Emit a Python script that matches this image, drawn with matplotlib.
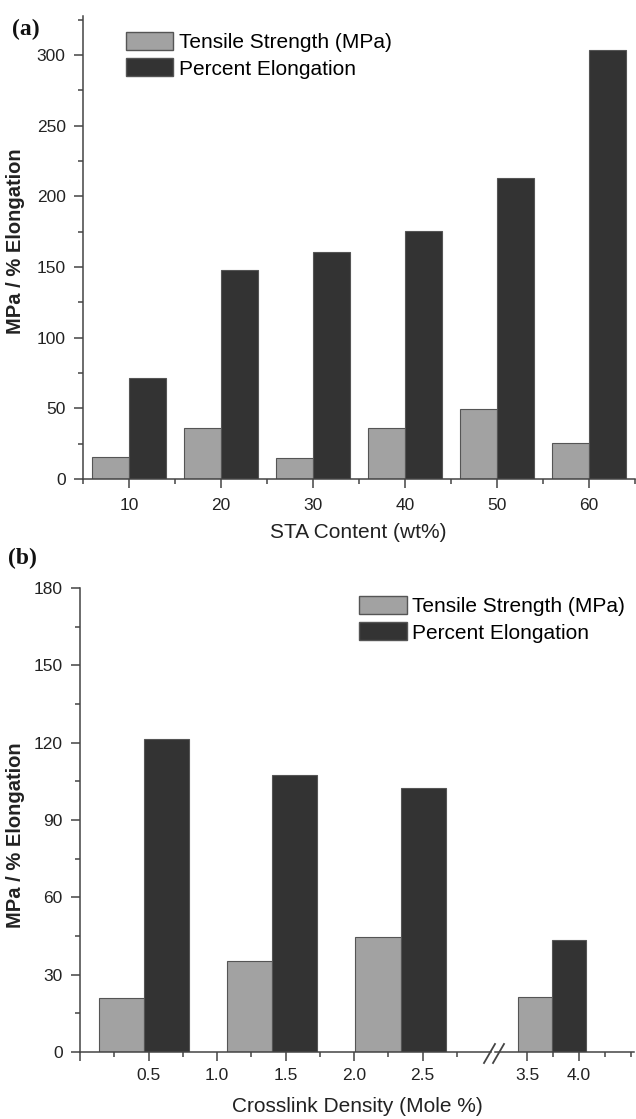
import matplotlib
matplotlib.use("Agg")
import matplotlib.pyplot as plt
from matplotlib.ticker import FixedLocator, MultipleLocator, FormatStrFormatter
from matplotlib.patches import Patch
from matplotlib.lines import Line2D

# ---------------- data ----------------
sta_content = [10, 20, 30, 40, 50, 60]
tensile_a = [15.3, 35.9, 14.6, 35.9, 49.5, 25.2]
elong_a = [71.3, 147.9, 160.4, 175.5, 212.8, 303.3]

crosslink_ticks_left = [0.5, 1.0, 1.5, 2.0, 2.5]
crosslink_ticks_right = [3.5, 4.0]
group_pos_b = [0.467, 1.40, 2.34, 3.74]
tensile_b = [20.8, 35.3, 44.5, 21.4]
elong_b = [121.4, 107.6, 102.3, 43.5]

series_labels = ["Tensile Strength (MPa)", "Percent Elongation"]

# ---------------- style ----------------
W, H = 636, 1119
DPI = 100
LIGHT = "#a2a2a2"
DARK = "#333333"
EDGE = "#555555"
AXC = "#444444"
TXT = "#222222"
NARROW = ["Liberation Sans Narrow", "Liberation Sans", "DejaVu Sans"]
SANS = ["Liberation Sans", "DejaVu Sans"]
SERIF = ["Liberation Serif", "DejaVu Serif"]

fig = plt.figure(figsize=(W / DPI, H / DPI), dpi=DPI)


def fx(px):
    return px / W


def fy(py):
    return 1 - py / H


def style_axis(ax, left=True):
    for s in ["top", "right"]:
        ax.spines[s].set_visible(False)
    ax.spines["left"].set_visible(left)
    for s in ["left", "bottom"]:
        ax.spines[s].set_color(AXC)
        ax.spines[s].set_linewidth(1.1)
    ax.tick_params(which="major", direction="out", length=6.5, width=1.1,
                   color=AXC, labelcolor=TXT, labelsize=12.5, pad=5)
    ax.tick_params(which="minor", direction="out", length=3.5, width=1.1,
                   color=AXC)


# ---------------- panel (a) ----------------
axa = fig.add_axes([fx(83), fy(479), fx(635) - fx(83), fy(15.5) - fy(479)])
xa = [v - 2 for v in sta_content]
xb = [v + 2 for v in sta_content]
axa.bar(xa, tensile_a, width=4, color=LIGHT, edgecolor=EDGE, linewidth=0.8)
axa.bar(xb, elong_a, width=4, color=DARK, edgecolor=EDGE, linewidth=0.8)
axa.set_xlim(5, 65)
axa.set_ylim(0, 328)
axa.xaxis.set_major_locator(FixedLocator(sta_content))
axa.xaxis.set_minor_locator(MultipleLocator(5))
axa.yaxis.set_major_locator(MultipleLocator(50))
axa.yaxis.set_minor_locator(MultipleLocator(25))
style_axis(axa)
axa.tick_params(axis="x", pad=7)
axa.tick_params(axis="y", pad=6)
for lab in axa.get_xticklabels() + axa.get_yticklabels():
    lab.set_family(NARROW)

handles = [Patch(facecolor=LIGHT, edgecolor=EDGE, linewidth=1.0),
           Patch(facecolor=DARK, edgecolor=EDGE, linewidth=1.0)]
fig.legend(handles, series_labels, loc="upper left",
           bbox_to_anchor=(fx(126), fy(32)), bbox_transform=fig.transFigure,
           frameon=False, borderpad=0, borderaxespad=0,
           handlelength=2.25, handleheight=0.95, handletextpad=0.3,
           labelspacing=0.3,
           prop={"family": NARROW, "size": 15})

fig.text(fx(16), fy(241), "MPa / % Elongation", rotation=90, ha="center",
         va="center", fontsize=14.5, fontweight="bold", family=SANS, color=TXT)
fig.text(fx(358), fy(532), "STA Content (wt%)", ha="center", va="center",
         fontsize=15, family=NARROW, color=TXT)
fig.text(fx(12), fy(29), "(a)", ha="left", va="center", fontsize=17,
         fontweight="bold", family=SERIF, color="#111111")

# ---------------- panel (b) ----------------
bl, bb, bt = fx(80), fy(1052), fy(588)
axb1 = fig.add_axes([bl, bb, fx(491) - bl, bt - bb])
axb2 = fig.add_axes([fx(495), bb, fx(634) - fx(495), bt - bb], sharey=axb1)

bw = 0.33
for ax in (axb1, axb2):
    ax.bar([p - bw / 2 for p in group_pos_b], tensile_b, width=bw,
           color=LIGHT, edgecolor=EDGE, linewidth=0.8)
    ax.bar([p + bw / 2 for p in group_pos_b], elong_b, width=bw,
           color=DARK, edgecolor=EDGE, linewidth=0.8)

axb1.set_xlim(0, 3.0)
axb2.set_xlim(3.19, 4.53)
axb1.set_ylim(0, 180)
axb1.xaxis.set_major_locator(FixedLocator([0.0] + crosslink_ticks_left))
axb1.xaxis.set_minor_locator(FixedLocator([0.25, 0.75, 1.25, 1.75, 2.25, 2.75]))
axb1.xaxis.set_major_formatter(
    plt.FuncFormatter(lambda v, p: "" if abs(v) < 1e-9 else f"{v:.1f}"))
axb2.xaxis.set_major_locator(FixedLocator(crosslink_ticks_right))
axb2.xaxis.set_minor_locator(FixedLocator([3.75, 4.25, 4.5]))
axb2.xaxis.set_major_formatter(FormatStrFormatter("%.1f"))
axb1.yaxis.set_major_locator(MultipleLocator(30))
axb1.yaxis.set_minor_locator(MultipleLocator(15))
style_axis(axb1)
style_axis(axb2, left=False)
axb2.tick_params(axis="y", which="both", left=False, labelleft=False)
for ax in (axb1, axb2):
    ax.tick_params(axis="x", pad=5)
    for lab in ax.get_xticklabels() + ax.get_yticklabels():
        lab.set_family(NARROW)
axb1.tick_params(axis="y", pad=6)

# break marks
for x0 in (484, 493):
    fig.add_artist(Line2D([fx(x0), fx(x0 + 11)], [fy(1063), fy(1044)],
                          color=AXC, linewidth=1.3))

fig.legend(handles, series_labels, loc="upper left",
           bbox_to_anchor=(fx(359), fy(596)), bbox_transform=fig.transFigure,
           frameon=False, borderpad=0, borderaxespad=0,
           handlelength=2.3, handleheight=0.95, handletextpad=0.25,
           labelspacing=0.3,
           prop={"family": NARROW, "size": 15})

fig.text(fx(16), fy(835), "MPa / % Elongation", rotation=90, ha="center",
         va="center", fontsize=14.5, fontweight="bold", family=SANS, color=TXT)
fig.text(fx(357), fy(1107), "Crosslink Density (Mole %)", ha="center",
         va="center", fontsize=15, family=NARROW, color=TXT)
fig.text(fx(8), fy(558), "(b)", ha="left", va="center", fontsize=17,
         fontweight="bold", family=SERIF, color="#111111")

fig.savefig("out.png", dpi=DPI)
